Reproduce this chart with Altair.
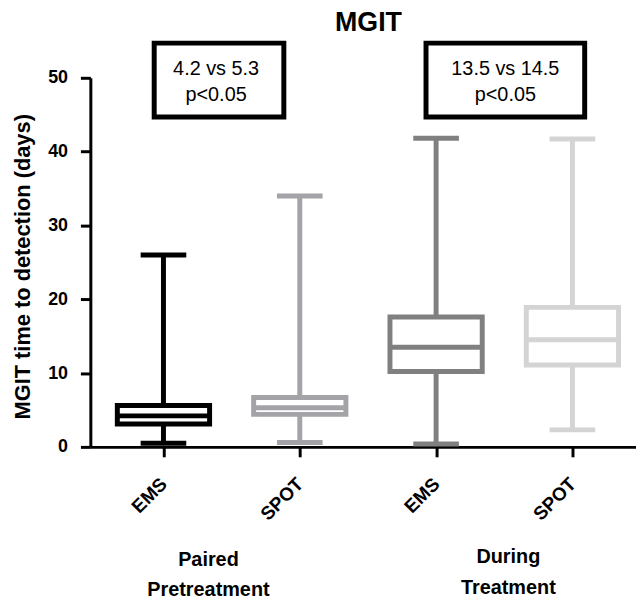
import json
import altair as alt
import pandas as pd

# ---------------- data ----------------
groups = ["Paired Pretreatment", "Paired Pretreatment", "During Treatment", "During Treatment"]
categories = ["EMS", "SPOT", "EMS", "SPOT"]
series_keys = ["Pre EMS", "Pre SPOT", "During EMS", "During SPOT"]
minimum = [0.5, 0.6, 0.4, 2.3]
lower_quartile = [3.1, 4.4, 10.2, 11.1]
median = [4.2, 5.3, 13.5, 14.5]
upper_quartile = [5.6, 6.7, 17.6, 18.9]
maximum = [26.0, 34.0, 41.8, 41.7]
y_ticks = [0, 10, 20, 30, 40, 50]

title_text = "MGIT"
y_title = "MGIT time to detection (days)"
comparison_lines = [["4.2 vs 5.3", "p<0.05"], ["13.5 vs 14.5", "p<0.05"]]
group_label_lines = [["Paired", "Pretreatment"], ["During", "Treatment"]]

# ---------------- styles / layout ----------------
FONT = "Liberation Sans"
colors = ["#000000", "#a4a4a8", "#808080", "#d4d4d4"]
positions = [1, 2, 3, 4]

# annotation layout, in data units of the chart's scales
box_x = [(0.932, 1.883), (2.926, 4.09)]
box_y = (44.7, 54.7)
text_x = [1.386, 3.508]
text_y = [50.4, 46.9]
group_x = [1.33, 3.53]
group_y = [[-15.4, -19.4], [-14.9, -19.1]]
title_pos = (2.504, 56.4)

df = pd.DataFrame({
    "pos": positions,
    "key": series_keys,
    "cat": categories,
    "group": groups,
    "min": minimum,
    "q1": lower_quartile,
    "med": median,
    "q3": upper_quartile,
    "max": maximum,
})

x_scale = alt.Scale(domain=[0.5, 4.43], nice=False, zero=False)
y_scale = alt.Scale(domain=[0, 50], nice=False, zero=True)

x_axis = alt.Axis(
    values=positions,
    labelExpr=f"{json.dumps(categories)}[datum.value - 1]",
    title=None,
    grid=False,
    domainColor="black", domainWidth=3,
    tickColor="black", tickWidth=3, tickSize=10,
    labelAngle=-45, labelAlign="right", labelBaseline="middle",
    labelPadding=24, labelFont=FONT, labelFontSize=19, labelFontWeight="bold",
    labelColor="black", labelOverlap=False, labelFlush=False,
)
y_axis = alt.Axis(
    values=y_ticks,
    title=y_title,
    grid=False,
    domainColor="black", domainWidth=3,
    tickColor="black", tickWidth=3, tickSize=10,
    labelPadding=13, labelFont=FONT, labelFontSize=18, labelFontWeight="bold",
    labelColor="black",
    titleFont=FONT, titleFontSize=22, titleFontWeight="bold", titleColor="black",
    titleX=-68, titleY=190, titleAngle=-90, titleAlign="center", titleBaseline="middle",
)

color = alt.Color("key:N", scale=alt.Scale(domain=series_keys, range=colors), legend=None)
base = alt.Chart(df)
X = alt.X("pos:Q", scale=x_scale, axis=x_axis)

whisker = base.mark_rule(strokeWidth=5).encode(
    x=X, y=alt.Y("min:Q", scale=y_scale, axis=y_axis), y2="max:Q", color=color
)
box = base.mark_bar(width=93, fill="white", strokeWidth=5).encode(
    x=alt.X("pos:Q", scale=x_scale), y=alt.Y("q1:Q", scale=y_scale), y2="q3:Q",
    stroke=alt.Stroke("key:N", scale=alt.Scale(domain=series_keys, range=colors), legend=None),
)
med = base.mark_tick(orient="horizontal", size=93, thickness=5, opacity=1).encode(
    x=alt.X("pos:Q", scale=x_scale), y=alt.Y("med:Q", scale=y_scale), color=color
)
cap_lo = base.mark_tick(orient="horizontal", size=46, thickness=5, opacity=1).encode(
    x=alt.X("pos:Q", scale=x_scale), y=alt.Y("min:Q", scale=y_scale), color=color
)
cap_hi = base.mark_tick(orient="horizontal", size=46, thickness=5, opacity=1).encode(
    x=alt.X("pos:Q", scale=x_scale), y=alt.Y("max:Q", scale=y_scale), color=color
)

# comparison boxes
ann_box = pd.DataFrame({
    "x1": [b[0] for b in box_x], "x2": [b[1] for b in box_x],
    "y1": [box_y[0]] * 2, "y2": [box_y[1]] * 2,
})
ann_rect = alt.Chart(ann_box).mark_rect(fill="white", stroke="black", strokeWidth=5).encode(
    x=alt.X("x1:Q", scale=x_scale), x2="x2:Q",
    y=alt.Y("y1:Q", scale=y_scale), y2="y2:Q",
)
ann_rows = []
for i, lines in enumerate(comparison_lines):
    for j, line in enumerate(lines):
        ann_rows.append({"x": text_x[i], "y": text_y[j], "t": line})
ann_text = alt.Chart(pd.DataFrame(ann_rows)).mark_text(
    font=FONT, fontSize=20, color="black", baseline="alphabetic", align="center"
).encode(x=alt.X("x:Q", scale=x_scale), y=alt.Y("y:Q", scale=y_scale), text="t:N")

# group labels under the axis
grp_rows = []
for i, lines in enumerate(group_label_lines):
    for j, line in enumerate(lines):
        grp_rows.append({"x": group_x[i], "y": group_y[i][j], "t": line})
grp_text = alt.Chart(pd.DataFrame(grp_rows)).mark_text(
    font=FONT, fontSize=20, fontWeight="bold", color="black", baseline="middle", align="center"
).encode(x=alt.X("x:Q", scale=x_scale), y=alt.Y("y:Q", scale=y_scale), text="t:N")

title = alt.Chart(pd.DataFrame({"x": [title_pos[0]], "y": [title_pos[1]], "t": [title_text]})).mark_text(
    font=FONT, fontSize=27, fontWeight="bold", color="black", baseline="alphabetic", align="center"
).encode(x=alt.X("x:Q", scale=x_scale), y=alt.Y("y:Q", scale=y_scale), text="t:N")

chart = alt.layer(
    whisker, box, med, cap_lo, cap_hi, ann_rect, ann_text, grp_text, title
).properties(
    width=550, height=372,
    autosize=alt.AutoSizeParams(type="none"),
    padding={"left": 83, "top": 68, "right": 0, "bottom": 154},
    background="white",
).configure_view(stroke=None)

chart.save("out.html", embed_options={"renderer": "svg", "actions": False})
